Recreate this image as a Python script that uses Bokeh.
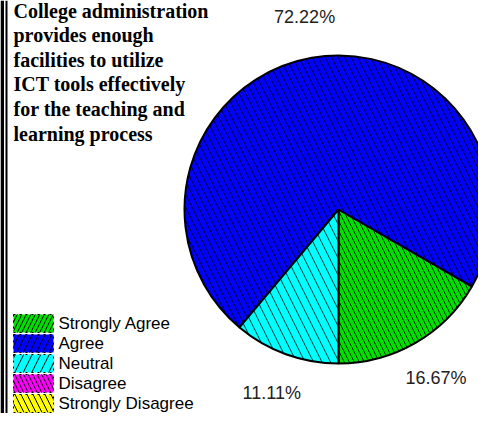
import math
from bokeh.plotting import figure
from bokeh.models import Range1d, Span, ColumnDataSource
from bokeh.core.properties import value
from bokeh.embed import file_html
from bokeh.resources import INLINE

# ---- data ----
categories = ["Strongly Agree", "Agree", "Neutral", "Disagree", "Strongly Disagree"]
percent = [16.67, 72.22, 11.11, 0.0, 0.0]
colors = ["#00E000", "#0000FF", "#00FFFF", "#FF00FF", "#FFFF00"]
pie_hatch = ["\\", "\\", "\\", "\\", "\\"]
pie_hatch_scale = [10, 13, 17, 10, 12]
legend_hatch = ["/", "/", "/", "\\", "\\"]
legend_hatch_scale = [9, 13, 17, 9, 12]
title_lines = ["College administration", "provides enough", "facilities to utilize",
               "ICT tools effectively", "for the teaching and", "learning process"]

W, H = 478, 413
p = figure(width=W, height=H, output_backend="svg", toolbar_location=None,
           x_range=Range1d(0, W), y_range=Range1d(0, H), min_border=0,
           background_fill_color="white", border_fill_color="white")
p.axis.visible = False
p.grid.visible = False
p.outline_line_color = None

# left double border
p.add_layout(Span(location=1.75, dimension="height", line_color="black", line_width=3.5))
p.add_layout(Span(location=6.0, dimension="height", line_color="black", line_width=2))

# ---- pie ----
cx, cy, r = 338, H - 209, 154
start = -math.pi / 2
starts, ends, mids = [], [], []
for v in percent:
    a = v / 100.0 * 2 * math.pi
    starts.append(start)
    ends.append(start + a)
    mids.append(start + a / 2)
    start += a

idx = [i for i, v in enumerate(percent) if v > 0]
src = ColumnDataSource(dict(
    s=[starts[i] for i in idx], e=[ends[i] for i in idx],
    c=[colors[i] for i in idx], h=[pie_hatch[i] for i in idx],
    hs=[pie_hatch_scale[i] for i in idx]))
p.wedge(x=cx, y=cy, radius=r, start_angle="s", end_angle="e", source=src,
        fill_color="c", line_color="black", line_width=2,
        hatch_pattern="h", hatch_scale="hs", hatch_color="black",
        hatch_weight=1, hatch_alpha=0.8)

# percentage labels
lr = 195
lab = ColumnDataSource(dict(
    x=[cx + lr * math.cos(mids[i]) for i in idx],
    y=[cy + lr * math.sin(mids[i]) for i in idx],
    t=["%.2f%%" % percent[i] for i in idx]))
p.text(x="x", y="y", text="t", source=lab, text_align="center", text_baseline="middle",
       text_font=value("Liberation Sans"), text_font_size="18px", text_color="#222222")

# ---- title ----
ty0, tstep = H - 10, 24.6
p.text(x=[13] * len(title_lines), y=[ty0 - i * tstep for i in range(len(title_lines))],
       text=title_lines, text_align="left", text_baseline="middle",
       text_font=value("Liberation Serif"), text_font_style="bold",
       text_font_size="20px", text_color="black")

# ---- legend ----
ly0, lstep = H - 323, 20
ly = [ly0 - i * lstep for i in range(len(categories))]
leg = ColumnDataSource(dict(y=ly, c=colors, h=legend_hatch, hs=legend_hatch_scale, t=categories))
p.rect(x=33, y="y", width=40, height=18, source=leg, fill_color="c",
       line_color="black", line_width=1, line_dash="dotted",
       hatch_pattern="h", hatch_scale="hs", hatch_color="black", hatch_weight=1)
p.text(x=58, y="y", text="t", source=leg, text_align="left", text_baseline="middle",
       text_font=value("Liberation Sans"), text_font_size="17px", text_color="black")

open("out.html", "w").write(file_html(p, INLINE))
